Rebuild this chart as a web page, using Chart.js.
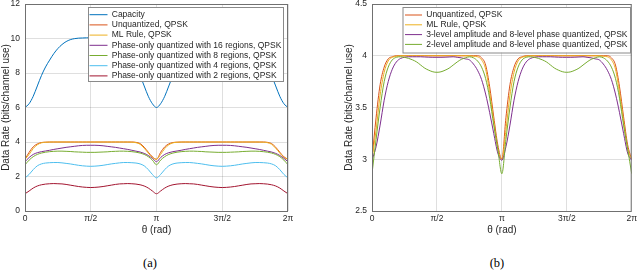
<!DOCTYPE html>
<html><head><meta charset="utf-8">
<script src="https://cdn.jsdelivr.net/npm/chart.js@4.4.1/dist/chart.umd.min.js"></script>
<style>
html,body{margin:0;padding:0;background:#fff;width:640px;height:270px;overflow:hidden;position:relative;}
.wrap{position:absolute;top:-10px;width:320px;height:246px;}
.cap{position:absolute;top:255px;width:40px;text-align:center;font-family:"Liberation Serif","Times New Roman",serif;font-size:12.5px;line-height:16px;color:#000;}
</style></head><body>
<div class="wrap" style="left:0"><canvas id="ca" width="320" height="246"></canvas></div>
<div class="wrap" style="left:320px"><canvas id="cb" width="320" height="246"></canvas></div>
<div class="cap" style="left:130px">(a)</div>
<div class="cap" style="left:477px">(b)</div>
<script>
// sample angles (rad), step pi/32 over [0, 2pi]
const theta = Array.from({length: 65}, (_, k) => k * Math.PI / 32);
const xTickValues = [0, Math.PI / 2, Math.PI, 3 * Math.PI / 2, 2 * Math.PI];
const xTickLabels = ['0', 'π/2', 'π', '3π/2', '2π'];
const yTicksA = [0, 2, 4, 6, 8, 10, 12];
const yTickLabelsA = ['0', '2', '4', '6', '8', '10', '12'];
const yTicksB = [2.5, 3, 3.5, 4, 4.5];
const yTickLabelsB = ['2.5', '3', '3.5', '4', '4.5'];

const namesA = ['Capacity', 'Unquantized, QPSK', 'ML Rule, QPSK',
  'Phase-only quantized with 16 regions, QPSK', 'Phase-only quantized with 8 regions, QPSK',
  'Phase-only quantized with 4 regions, QPSK', 'Phase-only quantized with 2 regions, QPSK'];
const namesB = ['Unquantized, QPSK', 'ML Rule, QPSK',
  '3-level amplitude and 8-level phase quantized, QPSK', '2-level amplitude and 8-level phase quantized, QPSK'];

const capacity = [6.00,6.22,6.65,7.25,7.85,8.35,8.75,9.12,9.42,9.65,9.82,9.93,9.99,10.02,10.03,10.04,10.04,10.04,10.03,10.02,9.99,9.93,9.82,9.65,9.42,9.12,8.75,8.35,7.85,7.25,6.65,6.22,6.00,
  6.22,6.65,7.25,7.85,8.35,8.75,9.12,9.42,9.65,9.82,9.93,9.99,10.02,10.03,10.04,10.04,10.04,10.03,10.02,9.99,9.93,9.82,9.65,9.42,9.12,8.75,8.35,7.85,7.25,6.65,6.22,6.00];
const unquantized = [3.00,3.40,3.72,3.89,3.97,3.99,
  4.00,4.00,4.00,4.00,4.00,4.00,4.00,4.00,4.00,4.00,4.00,4.00,4.00,4.00,4.00,4.00,4.00,4.00,4.00,4.00,4.00,
  3.98,3.91,3.70,3.41,3.14,3.00,
  3.40,3.72,3.89,3.97,3.99,
  4.00,4.00,4.00,4.00,4.00,4.00,4.00,4.00,4.00,4.00,4.00,4.00,4.00,4.00,4.00,4.00,4.00,4.00,4.00,4.00,4.00,
  3.98,3.91,3.70,3.41,3.14,3.00];
const mlRule = [3.00,3.28,3.62,3.84,3.95,3.985,3.995,
  4.00,4.00,4.00,4.00,4.00,4.00,4.00,4.00,4.00,4.00,4.00,4.00,4.00,4.00,4.00,4.00,4.00,4.00,
  3.995,3.99,3.96,3.87,3.64,3.36,3.10,3.00,
  3.28,3.62,3.84,3.95,3.985,3.995,
  4.00,4.00,4.00,4.00,4.00,4.00,4.00,4.00,4.00,4.00,4.00,4.00,4.00,4.00,4.00,4.00,4.00,4.00,
  3.995,3.99,3.96,3.87,3.64,3.36,3.10,3.00];
const phase16 = [2.86,3.10,3.28,3.38,3.44,3.48,3.52,3.57,3.61,3.65,3.69,3.72,3.75,3.78,3.80,3.81,3.81,3.81,3.80,3.78,3.75,3.72,3.69,3.65,3.61,3.57,3.52,3.47,3.42,3.34,3.22,3.05,2.86,
  3.10,3.28,3.38,3.44,3.48,3.52,3.57,3.61,3.65,3.69,3.72,3.75,3.78,3.80,3.81,3.81,3.81,3.80,3.78,3.75,3.72,3.69,3.65,3.61,3.57,3.52,3.47,3.42,3.34,3.22,3.05,2.86];
const phase8 = [2.68,2.95,3.15,3.28,3.36,3.41,3.44,3.46,3.47,3.47,3.46,3.45,3.43,3.42,3.41,3.40,3.40,3.40,3.41,3.42,3.43,3.45,3.46,3.47,3.47,3.46,3.44,3.41,3.36,3.28,3.15,2.95,2.68,
  2.95,3.15,3.28,3.36,3.41,3.44,3.46,3.47,3.47,3.46,3.45,3.43,3.42,3.41,3.40,3.40,3.40,3.41,3.42,3.43,3.45,3.46,3.47,3.47,3.46,3.44,3.41,3.36,3.28,3.15,2.95,2.68];
const phase4 = [1.92,2.12,2.40,2.62,2.73,2.78,2.80,2.81,2.81,2.79,2.76,2.73,2.69,2.65,2.62,2.60,2.59,2.60,2.62,2.65,2.69,2.73,2.76,2.79,2.81,2.81,2.80,2.78,2.73,2.62,2.40,2.12,1.92,
  2.12,2.40,2.62,2.73,2.78,2.80,2.81,2.81,2.79,2.76,2.73,2.69,2.65,2.62,2.60,2.59,2.60,2.62,2.65,2.69,2.73,2.76,2.79,2.81,2.81,2.80,2.78,2.73,2.62,2.40,2.12,1.92];
const phase2 = [1.00,1.16,1.33,1.45,1.52,1.56,1.58,1.59,1.58,1.57,1.54,1.50,1.46,1.42,1.39,1.37,1.36,1.37,1.39,1.42,1.46,1.50,1.54,1.57,1.58,1.59,1.58,1.56,1.52,1.45,1.33,1.16,1.00,
  1.16,1.33,1.45,1.52,1.56,1.58,1.59,1.58,1.57,1.54,1.50,1.46,1.42,1.39,1.37,1.36,1.37,1.39,1.42,1.46,1.50,1.54,1.57,1.58,1.59,1.58,1.56,1.52,1.45,1.33,1.16,1.00];
const amp3phase8 = [2.99,3.12,3.33,3.57,3.75,3.87,3.94,3.973,3.985,3.99,3.99,3.99,3.99,3.988,3.986,3.985,3.985,3.985,3.986,3.988,3.99,3.985,3.98,3.97,3.96,3.92,3.86,3.77,3.63,3.45,3.25,3.06,2.99,
  3.12,3.33,3.57,3.75,3.87,3.94,3.973,3.985,3.99,3.99,3.99,3.99,3.988,3.986,3.985,3.985,3.985,3.986,3.988,3.99,3.985,3.98,3.97,3.96,3.92,3.86,3.77,3.63,3.45,3.25,3.06,2.99];
const amp2phase8 = [2.86,3.19,3.50,3.75,3.89,3.96,3.985,3.99,3.985,3.975,3.96,3.94,3.91,3.88,3.86,3.845,3.84,3.845,3.86,3.88,3.91,3.94,3.965,3.98,3.99,3.98,3.95,3.89,3.78,3.59,3.33,3.10,2.86,
  3.19,3.50,3.75,3.89,3.96,3.985,3.99,3.985,3.975,3.96,3.94,3.91,3.88,3.86,3.845,3.84,3.845,3.86,3.88,3.91,3.94,3.965,3.98,3.99,3.98,3.95,3.89,3.78,3.59,3.33,3.10,2.86];

const C = {blue:'#0072BD', orange:'#D95319', yellow:'#EDB120', purple:'#7E2F8E', green:'#77AC30', cyan:'#4DBEEE', red:'#A2142F'};
const FONT = '"Liberation Sans", Arial, Helvetica, sans-serif';
const TXT = '#262626';
Chart.defaults.font.family = FONT;
Chart.defaults.color = TXT;

function ds(label, values, color, i, n) {
  return {
    label, data: theta.map((t, k) => ({x: t, y: values[k]})),
    borderColor: color, backgroundColor: color, borderWidth: 1,
    pointRadius: 0, cubicInterpolationMode: 'monotone', order: n - i
  };
}

function framePlugin(box, lx, ly) {
  return {
    id: 'matlabFrame',
    afterLayout(chart) {
      const lg = chart.legend;
      lg.left = lx; lg.top = ly; lg.width = 300; lg.height = 150;
      lg.right = lx + 300; lg.bottom = ly + 150;
    },
    afterDatasetsDraw(chart) {
      const {ctx, chartArea: a} = chart;
      ctx.save();
      ctx.strokeStyle = '#707070'; ctx.lineWidth = 1;
      ctx.strokeRect(a.left + 0.5, a.top + 0.5, a.right - a.left - 1, a.bottom - a.top);
      ctx.fillStyle = '#fff';
      ctx.fillRect(box.x1, box.y1, box.x2 - box.x1, box.y2 - box.y1);
      ctx.strokeStyle = '#8a8a8a';
      ctx.strokeRect(box.x1 + 0.5, box.y1 + 0.5, box.x2 - box.x1, box.y2 - box.y1);
      ctx.restore();
      chart.legend.draw();
    }
  };
}

function makeChart(id, datasets, yMin, yMax, yTicks, yLabels, pad, yWidth, legendPad, styleWidth, plugin) {
  return new Chart(document.getElementById(id), {
    type: 'line',
    data: {datasets},
    plugins: [plugin],
    options: {
      responsive: false, animation: false, devicePixelRatio: 1,
      layout: {padding: pad},
      plugins: {
        tooltip: {enabled: false},
        legend: {
          position: 'chartArea', align: 'start',
          labels: {
            usePointStyle: true, pointStyle: 'line', pointStyleWidth: styleWidth,
            font: {size: 8.5, family: FONT}, color: TXT, padding: legendPad,
            sort: (a, b) => a.datasetIndex - b.datasetIndex
          }
        }
      },
      scales: {
        x: {
          type: 'linear', min: 0, max: 2 * Math.PI,
          afterBuildTicks: s => { s.ticks = xTickValues.map(v => ({value: v})); },
          afterFit: s => { s.height = 25; },
          ticks: {callback: (v, i) => xTickLabels[i], font: {size: 8.5}, color: TXT, padding: 3, maxRotation: 0, autoSkip: false},
          grid: {color: 'rgba(38,38,38,0.15)', drawTicks: false, lineWidth: 1},
          border: {display: false},
          title: {display: true, text: 'θ (rad)', font: {size: 10}, color: TXT, padding: {top: 0, bottom: 0}}
        },
        y: {
          type: 'linear', min: yMin, max: yMax,
          afterBuildTicks: s => { s.ticks = yTicks.map(v => ({value: v})); },
          afterFit: s => { s.width = yWidth; },
          ticks: {callback: (v, i) => yLabels[i], font: {size: 8.5}, color: TXT, padding: 5, autoSkip: false},
          grid: {color: 'rgba(38,38,38,0.15)', drawTicks: false, lineWidth: 1},
          border: {display: false},
          title: {display: true, text: 'Data Rate (bits/channel use)', font: {size: 10}, color: TXT, padding: {top: 0, bottom: 0}}
        }
      }
    }
  });
}

const colorsA = [C.blue, C.orange, C.yellow, C.purple, C.green, C.cyan, C.red];
const seriesA = [capacity, unquantized, mlRule, phase16, phase8, phase4, phase2];
const dsA = seriesA.map((s, i) => ds(namesA[i], s, colorsA[i], i, seriesA.length));
makeChart('ca', dsA, 0, 12, yTicksA, yTickLabelsA, {left: 0, top: 14, right: 32, bottom: 0}, 25, 1.7, 18,
  framePlugin({x1: 88, y1: 17, x2: 283, y2: 91}, 87.8, 18.75));

const colorsB = [C.orange, C.yellow, C.purple, C.green];
const seriesB = [unquantized, mlRule, amp3phase8, amp2phase8];
const dsB = seriesB.map((s, i) => ds(namesB[i], s, colorsB[i], i, seriesB.length));
makeChart('cb', dsB, 2.5, 4.5, yTicksB, yTickLabelsB, {left: 23, top: 14, right: 5, bottom: 0}, 29, 1.3, 17,
  framePlugin({x1: 82.5, y1: 17, x2: 310, y2: 62.5}, 83.7, 19.45));
</script>
</body></html>
